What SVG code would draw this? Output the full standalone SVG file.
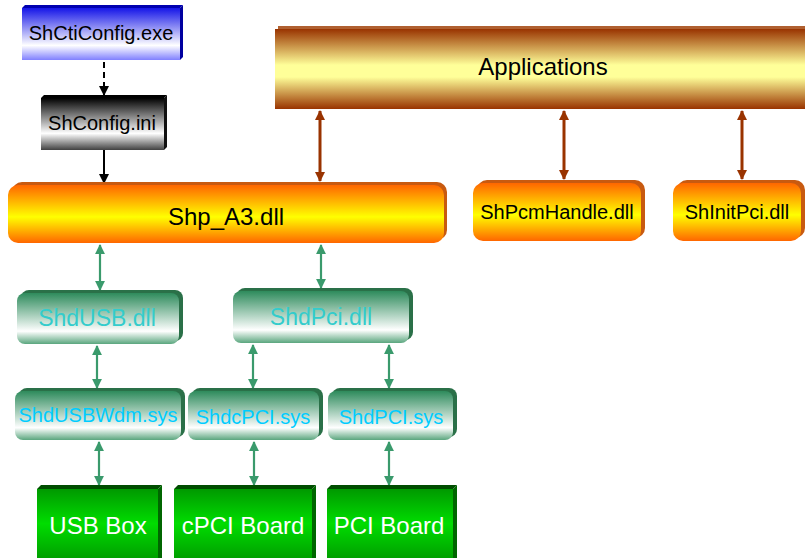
<svg xmlns="http://www.w3.org/2000/svg" width="805" height="558" viewBox="0 0 805 558">
<defs>
<linearGradient id="gBlue" x1="0" y1="0" x2="0" y2="1">
<stop offset="0" stop-color="#1515e8"/><stop offset="0.72" stop-color="#ffffff"/><stop offset="1" stop-color="#8080ff"/>
</linearGradient>
<linearGradient id="gGray" x1="0" y1="0" x2="0" y2="1">
<stop offset="0" stop-color="#000000"/><stop offset="0.68" stop-color="#ffffff"/><stop offset="1" stop-color="#404040"/>
</linearGradient>
<linearGradient id="gOrange" x1="0" y1="0" x2="0" y2="1">
<stop offset="0" stop-color="#ff6600"/><stop offset="0.55" stop-color="#ffff00"/><stop offset="1" stop-color="#ff6600"/>
</linearGradient>
<linearGradient id="gApp" x1="0" y1="0" x2="0" y2="1">
<stop offset="0" stop-color="#993300"/><stop offset="0.45" stop-color="#ffff99"/><stop offset="0.6" stop-color="#ffff99"/><stop offset="1" stop-color="#993300"/>
</linearGradient>
<linearGradient id="gTeal" x1="0" y1="0" x2="0" y2="1">
<stop offset="0" stop-color="#2e8b5c"/><stop offset="0.75" stop-color="#ffffff"/><stop offset="1" stop-color="#5aa67e"/>
</linearGradient>
<linearGradient id="gGreen" x1="0" y1="0" x2="0" y2="1">
<stop offset="0" stop-color="#009900"/><stop offset="0.5" stop-color="#00dd00"/><stop offset="1" stop-color="#00a000"/>
</linearGradient>
<marker id="aG" viewBox="0 0 10 10" refX="9" refY="5" markerWidth="4.5" markerHeight="4.5" orient="auto-start-reverse"><path d="M0,0 L10,5 L0,10 z" fill="#3a9a6c"/></marker>
<marker id="aB" viewBox="0 0 10 10" refX="9" refY="5" markerWidth="3.5" markerHeight="3.5" orient="auto-start-reverse"><path d="M0,0 L10,5 L0,10 z" fill="#993300"/></marker>
<marker id="aK" viewBox="0 0 10 10" refX="9" refY="5" markerWidth="5" markerHeight="5" orient="auto"><path d="M0,0 L10,5 L0,10 z" fill="#000"/></marker>
</defs>
<style>
text{font-family:"Liberation Sans",Arial,sans-serif;text-anchor:middle}
.s{font-size:20px}
.l{font-size:24px}
.k{fill:#000}
.t1{fill:#33cccc}
.t2{fill:#00ccff}
.w{fill:#ffffff}
.gl{stroke:#3a9a6c;stroke-width:2.2;fill:none;marker-start:url(#aG);marker-end:url(#aG)}
.bl{stroke:#993300;stroke-width:3;fill:none;marker-start:url(#aB);marker-end:url(#aB)}
.kl{stroke:#000;stroke-width:2;fill:none;marker-end:url(#aK)}
</style>

<g id="connectors">
<line class="kl" x1="104" y1="62" x2="104" y2="95" stroke-dasharray="6,4"/>
<line class="kl" x1="104" y1="150" x2="104" y2="183"/>
<line class="bl" x1="320" y1="111" x2="320" y2="181"/>
<line class="bl" x1="564" y1="111" x2="564" y2="179"/>
<line class="bl" x1="742" y1="111" x2="742" y2="179"/>
<line class="gl" x1="100" y1="245" x2="100" y2="290"/>
<line class="gl" x1="321" y1="245" x2="321" y2="288"/>
<line class="gl" x1="97" y1="346" x2="97" y2="388"/>
<line class="gl" x1="253" y1="345" x2="253" y2="388"/>
<line class="gl" x1="389" y1="345" x2="389" y2="388"/>
<line class="gl" x1="99" y1="442" x2="99" y2="485"/>
<line class="gl" x1="254" y1="442" x2="254" y2="485"/>
<line class="gl" x1="389" y1="442" x2="389" y2="485"/>
</g>

<g id="shcticonfig">
<polygon points="22,8 25,5 183,5 180,8" fill="#0000b0"/>
<polygon points="180,8 183,5 183,57 180,60" fill="#0000a0"/>
<rect x="22" y="8" width="158" height="52" fill="url(#gBlue)"/>
<text class="s k" x="101" y="40">ShCtiConfig.exe</text>
</g>

<g id="shconfig">
<polygon points="41,98 44,95 167,95 164,98" fill="#000"/>
<polygon points="164,98 167,95 167,147 164,150" fill="#111"/>
<rect x="41" y="98" width="123" height="52" fill="url(#gGray)"/>
<text class="s k" x="102" y="130">ShConfig.ini</text>
</g>

<g id="applications">
<rect x="278" y="26" width="530" height="80" fill="#b06030"/>
<rect x="275" y="29" width="535" height="80" fill="url(#gApp)"/>
<text class="l k" x="543" y="75">Applications</text>
</g>

<g id="shp_a3">
<rect x="12" y="182" width="435" height="58" rx="10" fill="#c85a10"/>
<rect x="8" y="185" width="436" height="58" rx="10" fill="url(#gOrange)"/>
<text class="l k" x="226" y="225">Shp_A3.dll</text>
</g>

<g id="shpcmhandle">
<rect x="477" y="180" width="168" height="58" rx="10" fill="#c85a10"/>
<rect x="473" y="183" width="168" height="58" rx="10" fill="url(#gOrange)"/>
<text class="s k" x="557" y="219">ShPcmHandle.dll</text>
</g>

<g id="shinitpci">
<rect x="677" y="180" width="128" height="58" rx="10" fill="#c85a10"/>
<rect x="673" y="183" width="128" height="58" rx="10" fill="url(#gOrange)"/>
<text class="s k" x="737" y="219">ShInitPci.dll</text>
</g>

<g id="shdusb">
<rect x="21" y="290" width="162" height="51" rx="8" fill="#2a7048"/>
<rect x="17" y="293" width="162" height="51" rx="8" fill="url(#gTeal)"/>
<text class="l t1" x="97" y="326" style="font-size:23px">ShdUSB.dll</text>
</g>

<g id="shdpci">
<rect x="237" y="288" width="176" height="52" rx="8" fill="#2a7048"/>
<rect x="233" y="291" width="176" height="52" rx="8" fill="url(#gTeal)"/>
<text class="l t1" x="321" y="325" style="font-size:23px">ShdPci.dll</text>
</g>

<g id="shdusbwdm">
<rect x="19" y="388" width="166" height="49" rx="8" fill="#2a7048"/>
<rect x="15" y="391" width="166" height="49" rx="8" fill="url(#gTeal)"/>
<text class="s t2" x="98" y="422">ShdUSBWdm.sys</text>
</g>

<g id="shdcpci">
<rect x="192" y="388" width="131" height="49" rx="8" fill="#2a7048"/>
<rect x="188" y="391" width="131" height="49" rx="8" fill="url(#gTeal)"/>
<text class="s t2" x="253" y="424">ShdcPCI.sys</text>
</g>

<g id="shdpci_sys">
<rect x="332" y="388" width="125" height="49" rx="8" fill="#2a7048"/>
<rect x="328" y="391" width="125" height="49" rx="8" fill="url(#gTeal)"/>
<text class="s t2" x="391" y="424">ShdPCI.sys</text>
</g>

<g id="usbbox">
<polygon points="37,489 41,485 162,485 158,489" fill="#004d00"/>
<polygon points="158,489 162,485 162,558 158,558" fill="#006600"/>
<rect x="37" y="489" width="121" height="69" fill="url(#gGreen)"/>
<text class="l w" x="98" y="534">USB Box</text>
</g>

<g id="cpciboard">
<polygon points="174,489 178,485 316,485 312,489" fill="#004d00"/>
<polygon points="312,489 316,485 316,558 312,558" fill="#006600"/>
<rect x="174" y="489" width="138" height="69" fill="url(#gGreen)"/>
<text class="l w" x="243" y="534">cPCI Board</text>
</g>

<g id="pciboard">
<polygon points="327,489 331,485 457,485 453,489" fill="#004d00"/>
<polygon points="453,489 457,485 457,558 453,558" fill="#006600"/>
<rect x="327" y="489" width="126" height="69" fill="url(#gGreen)"/>
<text class="l w" x="389" y="534">PCI Board</text>
</g>
</svg>
